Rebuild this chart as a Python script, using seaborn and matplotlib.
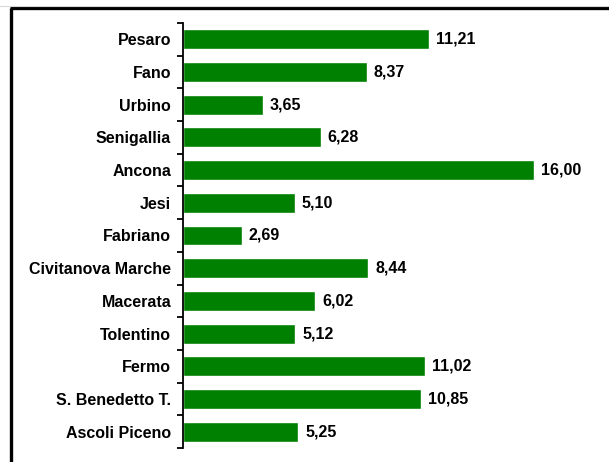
import matplotlib
matplotlib.use("Agg")
import matplotlib.pyplot as plt
from matplotlib.lines import Line2D
import seaborn as sns
import pandas as pd
import numpy as np

cities = ["Pesaro", "Fano", "Urbino", "Senigallia", "Ancona", "Jesi", "Fabriano",
          "Civitanova Marche", "Macerata", "Tolentino", "Fermo",
          "S. Benedetto T.", "Ascoli Piceno"]
values = [11.21, 8.37, 3.65, 6.28, 16.00, 5.10, 2.69,
          8.44, 6.02, 5.12, 11.02, 10.85, 5.25]

df = pd.DataFrame({"city": cities, "value": values})

sns.set_theme(style="white")
plt.rcParams["font.family"] = ["Liberation Sans", "DejaVu Sans"]
plt.rcParams["font.weight"] = "bold"

W, H = 609, 462
fig = plt.figure(figsize=(W / 100, H / 100), dpi=100)
ax = fig.add_axes([183 / W, 1 - 448 / H, (605 - 183) / W, (448 - 23) / H])

sns.barplot(data=df, x="value", y="city", orient="h", color="#008000",
            width=0.61, saturation=1, ax=ax)

ax.set_xlim(0, (605 - 183) / 21.94)
ax.set_ylim(len(cities) - 0.5, -0.5)
ax.set_xlabel("")
ax.set_ylabel("")
ax.set_xticks([])

for side in ["top", "right", "bottom"]:
    ax.spines[side].set_visible(False)
ax.spines["left"].set_color("black")
ax.spines["left"].set_linewidth(1.3)

FS = 11.5

# labels at category centres, tick marks at category boundaries
ax.set_yticks(np.arange(len(cities)))
ax.set_yticklabels(cities, fontsize=FS, fontweight="bold", color="black")
ax.set_yticks(np.arange(len(cities) + 1) - 0.5, minor=True)
ax.tick_params(axis="y", which="major", length=0, pad=8.5)
ax.tick_params(axis="y", which="minor", left=True, length=4, width=1.3,
               color="black", direction="out")

labels = [f"{v:.2f}".replace(".", ",") for v in values]
ax.bar_label(ax.containers[0], labels=labels, padding=5, fontsize=FS,
             fontweight="bold", color="black")

# outer frame (left and top edges)
fig.add_artist(Line2D([11 / W, 11 / W], [0, 1 - 8 / H], transform=fig.transFigure,
                      color="black", linewidth=2.4, solid_capstyle="butt"))
fig.add_artist(Line2D([10 / W, 1], [1 - 8 / H, 1 - 8 / H], transform=fig.transFigure,
                      color="black", linewidth=2.4, solid_capstyle="butt"))
fig.add_artist(Line2D([0, 1], [1 - 5.5 / H, 1 - 5.5 / H], transform=fig.transFigure,
                      color="#d8d8d8", linewidth=0.8))

fig.savefig("out.png", dpi=100, facecolor="white")
